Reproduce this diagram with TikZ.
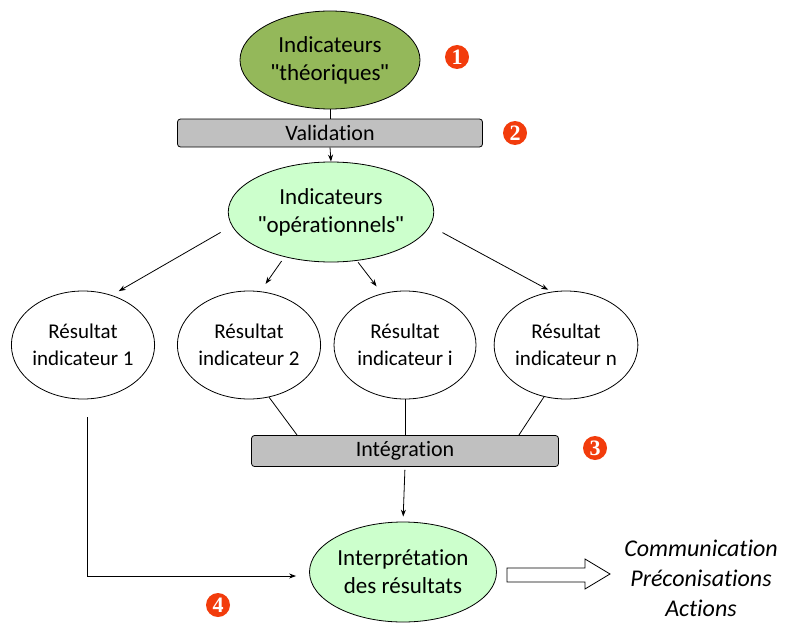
\documentclass[tikz,border=0pt]{standalone}
\usepackage{fontspec}
\setmainfont{Carlito}[Ligatures={NoCommon}]
\newfontfamily\badgefont{Liberation Serif}
\newfontfamily\quotefont{Liberation Sans}
\usepackage{tikz}
\usetikzlibrary{positioning, arrows.meta, shapes.geometric}

\definecolor{olive}{HTML}{94B85A}
\definecolor{palegreen}{HTML}{CCFFCC}
\definecolor{boxgray}{HTML}{C0C0C0}
\definecolor{badgered}{HTML}{F23C0C}

\newcommand{\dq}{{\quotefont\char"0022\relax}}

\tikzset{
  bigell/.style={ellipse, draw=black, line width=0.8pt, align=center, inner sep=0pt,
                 font=\fontsize{23}{28}\selectfont},
  resell/.style={ellipse, draw=black, line width=0.8pt, fill=white, align=center,
                 inner sep=0pt, minimum width=142pt, minimum height=108pt,
                 font=\fontsize{21}{27}\selectfont},
  graybox/.style={rectangle, rounded corners=3pt, draw=black, line width=0.8pt,
                  fill=boxgray, inner sep=0pt, font=\fontsize{22}{26}\selectfont},
  badge/.style={circle, fill=badgered, text=white, inner sep=0pt, minimum size=24pt,
                font=\fontsize{22}{22}\selectfont\badgefont\bfseries},
  link/.style={line width=0.8pt, black},
  arr/.style={line width=0.8pt, black, -{Stealth[length=7pt,width=5pt]}}
}

\begin{document}
\begin{tikzpicture}[x=1pt, y=-1pt]
  \useasboundingbox (0,0) rectangle (786,623);

  % upper part
  \node[bigell, fill=olive, minimum width=180pt, minimum height=98pt] (theo) at (330,60)
       {Indicateurs\\\dq théoriques\dq};
  \node[graybox, minimum width=305pt, minimum height=28pt] (valid) at (330,133) {Validation};
  \node[bigell, fill=palegreen, minimum width=181pt, minimum height=100pt] (oper) at (331,212)
       {Indicateurs\\\dq opérationnels\dq};

  \node[badge] (b1) at (457,57) {1};
  \node[badge] (b2) at (515,133) {2};

  \draw[link] (theo.south) -- (valid.north);
  \draw[arr] (valid.south) -- (oper.north);

  % results
  \node[resell] (r1) at (83,345) {Résultat\\indicateur 1};
  \node[resell] (r2) at (249,345) {Résultat\\indicateur 2};
  \node[resell] (ri) at (405,345) {Résultat\\indicateur i};
  \node[resell] (rn) at (566,345) {Résultat\\indicateur n};

  \draw[arr, shorten <=13pt, shorten >=8pt] (oper.188) -- (r1.60);
  \draw[arr, shorten <=5pt, shorten >=9pt] (oper.224) -- (r2.78);
  \draw[arr, shorten <=2pt, shorten >=9pt] (oper.-62) -- (ri.114);
  \draw[arr, shorten <=14pt, shorten >=4pt] (oper.-8) -- (rn.105);

  % integration
  \node[graybox, minimum width=307pt, minimum height=31pt] (integ) at (405,451) {Intégration};
  \node[badge] (b3) at (595,448) {3};

  \draw[link] (r2.-69) -- ([xshift=46pt]integ.north west);
  \draw[link] (ri.south) -- (integ.north);
  \draw[link] (rn.-113) -- ([xshift=-40pt]integ.north east);

  % interpretation
  \node[bigell, fill=palegreen, minimum width=187pt, minimum height=100pt] (interp) at (403,572)
       {Interprétation\\des résultats};
  \node[badge] (b4) at (218,605) {4};

  \draw[arr, shorten <=3pt, shorten >=5pt] (integ.south) -- (interp.north);
  \draw[arr, shorten >=13pt] ([xshift=4pt, yshift=-18pt]r1.south) |- ([yshift=-4pt]interp.west);

  % outputs
  \draw[line width=0.8pt, fill=white] (507,568) -- (585,568) -- (585,559) -- (610,574)
       -- (585,589) -- (585,582) -- (507,582) -- cycle;
  \node[align=center, font=\fontsize{24}{30}\selectfont\itshape] (actions) at (701,578)
       {Communication\\Préconisations\\Actions};
\end{tikzpicture}
\end{document}
